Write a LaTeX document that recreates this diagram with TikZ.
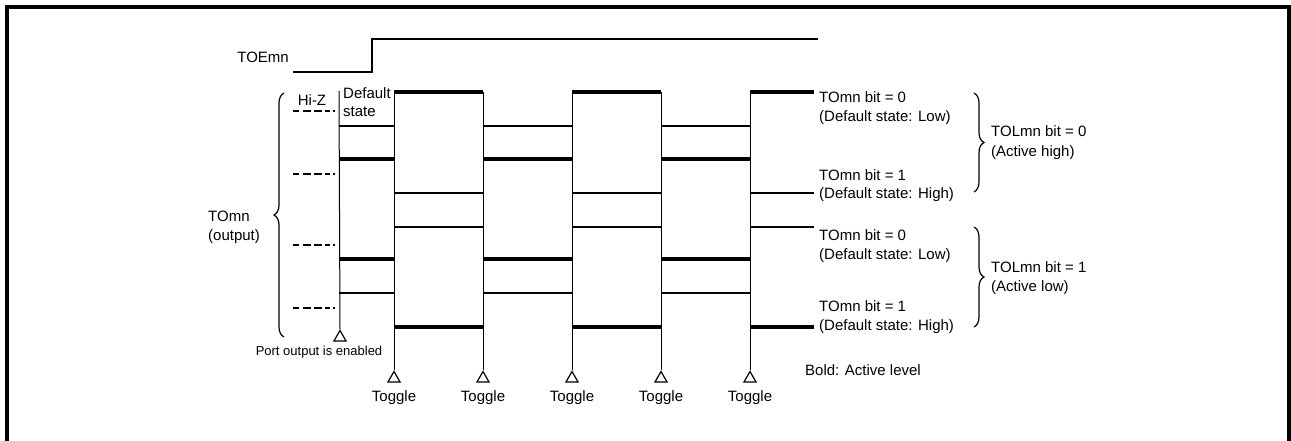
\documentclass[tikz,border=0pt]{standalone}
\usepackage{fontspec}
\setmainfont{Liberation Sans}
\usetikzlibrary{shapes.geometric,decorations.pathreplacing}
\begin{document}
\begin{tikzpicture}[x=1pt,y=-1pt,
  sig/.style={line width=1.2pt},
  act/.style={line width=3.6pt},
  guide/.style={line width=1pt},
  frame/.style={line width=4pt},
  hiz/.style={line width=2.6pt, dash pattern=on 6pt off 4pt on 8pt off 3pt on 8pt off 3pt on 5pt off 3pt on 2pt off 20pt},
  trig/.style={draw, regular polygon, regular polygon sides=3, inner sep=0pt, minimum size=14pt, line width=1.2pt},
  lbl/.style={font=\fontsize{15pt}{18pt}\selectfont, inner sep=0pt},
  small/.style={font=\fontsize{13pt}{15pt}\selectfont, inner sep=0pt},
  brc/.style={decorate, decoration={brace, amplitude=10pt}, line width=1.2pt}
]
\useasboundingbox (0,0) rectangle (1291,441);
% frame (open at the bottom)
\draw[frame] (7,441) -- (7,7.5) -- (1289,7.5) -- (1289,441);

% TOEmn
\node[lbl, anchor=base east] (toe) at (289,63) {TOEmn};
\draw[sig] (293,72) -- (372,72) -- (372,39) -- (818,39);

% port enable line and triangle
\coordinate (pTop) at (339,91);
\node[trig] (pen) at (340,337.5) {};
\draw[guide] (pTop) -- (pen.corner 1);
\node[small, anchor=base] (pentxt) at (319,355.5) {Port output is enabled};

% toggle lines and triangles
\foreach \i/\x in {1/394,2/483,3/572,4/661,5/750}{
  \coordinate (g\i) at (\x,92);
  \node[trig] (t\i) at (\x,378.5) {};
  \draw[guide] (g\i) -- (t\i.corner 1);
  \node[lbl, anchor=base] (tt\i) at (\x,401) {Toggle};
}

% Hi-Z dashes
\foreach \y in {111,174,245,308}{
  \draw[hiz] (293,\y) -- (336,\y);
}
\node[lbl, anchor=base] (hiztxt) at (312,106) {Hi-Z};
\node[lbl, anchor=base west] (def1) at (343,99) {Default};
\node[lbl, anchor=base west] (def2) at (343,116.5) {state};

% Signal 1: TOmn=0, TOLmn=0
\draw[sig] (339,126) -- (394,126) (483,126) -- (572,126) (661,126) -- (750,126);
\draw[act] (394,92) -- (483,92) (572,92) -- (661,92) (750,92) -- (814,92);
% Signal 2: TOmn=1, TOLmn=0
\draw[act] (339,159) -- (394,159) (483,159) -- (572,159) (661,159) -- (750,159);
\draw[sig] (394,193) -- (483,193) (572,193) -- (661,193) (750,193) -- (814,193);
% Signal 3: TOmn=0, TOLmn=1
\draw[act] (339,259) -- (394,259) (483,259) -- (572,259) (661,259) -- (750,259);
\draw[sig] (394,227) -- (483,227) (572,227) -- (661,227) (750,227) -- (814,227);
% Signal 4: TOmn=1, TOLmn=1
\draw[sig] (339,293) -- (394,293) (483,293) -- (572,293) (661,293) -- (750,293);
\draw[act] (394,327) -- (483,327) (572,327) -- (661,327) (750,327) -- (814,327);

% right labels
\node[lbl, anchor=base west] (a1) at (819,103) {TOmn bit = 0};
\node[lbl, anchor=base west] (a2) at (819,122) {(Default state: Low)};
\node[lbl, anchor=base west] (b1) at (819,181) {TOmn bit = 1};
\node[lbl, anchor=base west] (b2) at (819,199) {(Default state: High)};
\node[lbl, anchor=base west] (c1) at (819,240) {TOmn bit = 0};
\node[lbl, anchor=base west] (c2) at (819,259) {(Default state: Low)};
\node[lbl, anchor=base west] (d1) at (819,311) {TOmn bit = 1};
\node[lbl, anchor=base west] (d2) at (819,330) {(Default state: High)};

% braces right
\draw[brc] (974,93) -- (974,192);
\draw[brc] (974,227) -- (974,327);
\node[lbl, anchor=base west] (e1) at (991,137) {TOLmn bit = 0};
\node[lbl, anchor=base west] (e2) at (991,157) {(Active high)};
\node[lbl, anchor=base west] (f1) at (991,272) {TOLmn bit = 1};
\node[lbl, anchor=base west] (f2) at (991,291) {(Active low)};

% left brace
\draw[brc] (284,337) -- (284,93);
\node[lbl, anchor=base west] (o1) at (208,221) {TOmn};
\node[lbl, anchor=base west] (o2) at (208,240) {(output)};

% legend
\node[lbl, anchor=base west] (leg) at (805,375) {Bold: Active level};
\end{tikzpicture}
\end{document}
